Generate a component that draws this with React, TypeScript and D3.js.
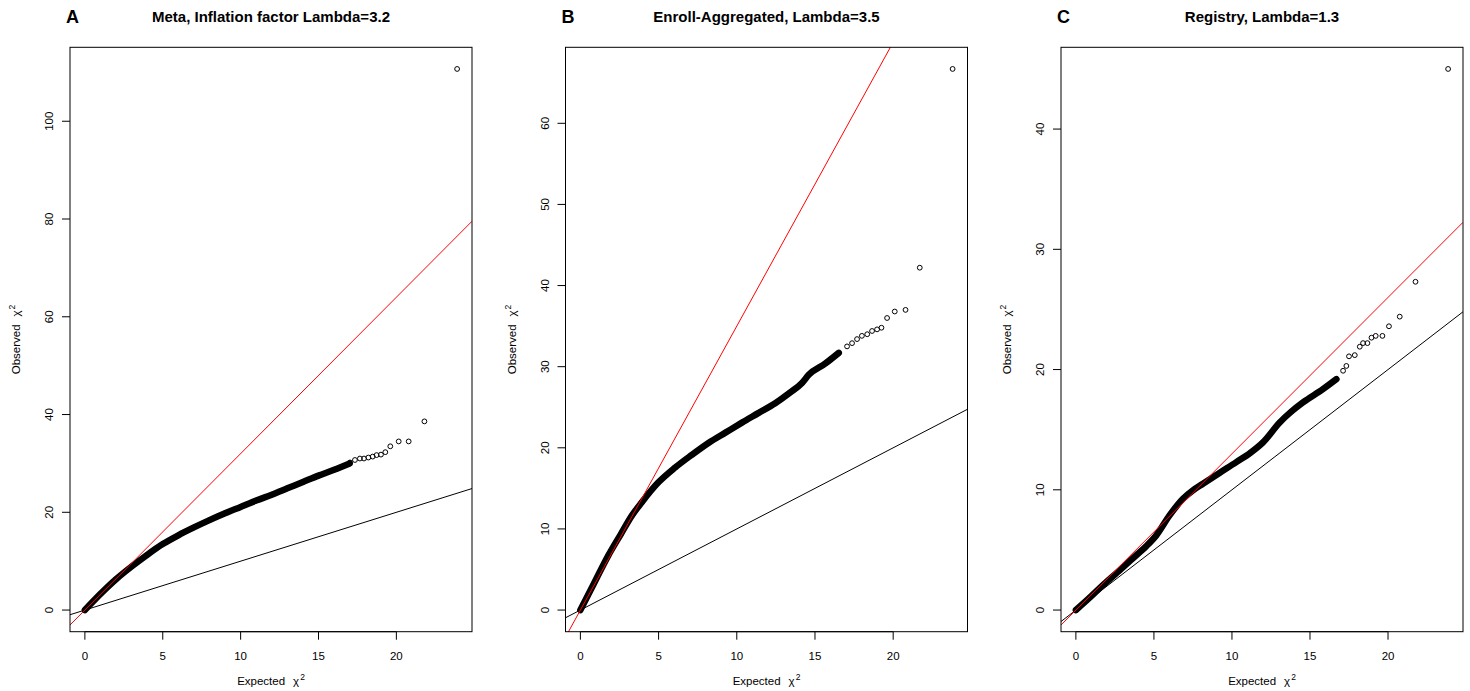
import React from "react";
import * as d3 from "d3";

// Expected vs observed chi-square quantiles: dense body of each QQ plot
const metaBand: [number, number][] = [
  [0, 0], [1, 3.3], [2, 6.3], [3, 8.9], [4, 11.3], [5, 13.5], [6, 15.3], [7, 16.9],
  [8, 18.4], [9, 19.8], [10, 21.1], [11, 22.4], [12, 23.6], [13, 24.9], [14, 26.2],
  [15, 27.5], [16, 28.7], [17, 30.0],
];
const metaTail: [number, number][] = [
  [17.02, 30.2], [17.34, 30.7], [17.66, 31.0], [17.92, 31.0], [18.2, 31.2], [18.48, 31.4],
  [18.73, 31.7], [19.01, 31.8], [19.29, 32.3], [19.61, 33.5], [20.15, 34.5], [20.79, 34.5],
  [21.8, 38.6], [23.9, 110.7],
];

const enrollBand: [number, number][] = [
  [0, 0], [0.9, 3.4], [1.79, 6.74], [2.6, 9.4], [3.29, 11.64], [3.93, 13.3], [4.99, 15.74],
  [6.06, 17.57], [7.1, 19.1], [8.19, 20.6], [9.3, 21.9], [10.33, 23.1], [11.4, 24.3],
  [12.46, 25.5], [13.4, 26.8], [14.17, 28.0], [14.6, 29.0], [15.67, 30.4], [16.52, 31.7],
];
const enrollTail: [number, number][] = [
  [17.05, 32.5], [17.37, 32.9], [17.69, 33.4], [18.0, 33.8], [18.34, 34.0], [18.65, 34.4],
  [18.97, 34.6], [19.25, 34.8], [19.61, 36.0], [20.1, 36.8], [20.79, 37.0], [21.7, 42.2],
  [23.8, 66.7],
];

const registryBand: [number, number][] = [
  [0, 0], [0.9, 1.05], [1.73, 2.07], [2.8, 3.3], [3.87, 4.56], [4.5, 5.3], [5.15, 6.21],
  [6.0, 7.87], [6.86, 9.25], [7.5, 9.95], [8.14, 10.5], [9.2, 11.4], [10.28, 12.3],
  [11.2, 13.1], [11.99, 13.95], [13.06, 15.6], [13.8, 16.5], [14.55, 17.27], [15.83, 18.37],
  [16.69, 19.2],
];
const registryTail: [number, number][] = [
  [17.12, 19.9], [17.33, 20.3], [17.5, 21.1], [17.87, 21.2], [18.19, 21.9], [18.4, 22.2],
  [18.68, 22.2], [18.94, 22.65], [19.21, 22.8], [19.64, 22.8], [20.06, 23.6], [20.75, 24.4],
  [21.76, 27.3], [23.85, 45.0],
];

const xTicks = [0, 5, 10, 15, 20];
const metaYTicks = [0, 20, 40, 60, 80, 100];
const enrollYTicks = [0, 10, 20, 30, 40, 50, 60];
const registryYTicks = [0, 10, 20, 30, 40];

const panelLetters = ["A", "B", "C"];
const panelTitles = [
  "Meta, Inflation factor Lambda=3.2",
  "Enroll-Aggregated, Lambda=3.5",
  "Registry, Lambda=1.3",
];
const lambdas = [3.2, 3.5, 1.3];

const FONT = "'Liberation Sans', Arial, sans-serif";

type PanelProps = {
  index: number;
  band: [number, number][];
  tail: [number, number][];
  yTicks: number[];
};

function padded(lo: number, hi: number): [number, number] {
  const d = (hi - lo) * 0.04;
  return [lo - d, hi + d];
}

function ChiLabel({ word }: { word: string }) {
  return (
    <>
      {word}
      <tspan dx={8}>χ</tspan>
      <tspan dx={1} dy={-5} fontSize={8.5}>2</tspan>
    </>
  );
}

function Panel({ index, band, tail, yTicks }: PanelProps) {
  const left = 70 + index * 495.5;
  const width = 402;
  const top = 47.3;
  const bottom = 631.7;
  const all = band.concat(tail);
  const x = d3
    .scaleLinear()
    .domain(padded(0, d3.max(all, (d) => d[0]) as number))
    .range([left, left + width]);
  const y = d3
    .scaleLinear()
    .domain(padded(0, d3.max(all, (d) => d[1]) as number))
    .range([bottom, top]);
  const [x0, x1] = x.domain();
  const lambda = lambdas[index];
  const clipId = `clip-${index}`;
  const line = d3
    .line<[number, number]>()
    .x((d) => x(d[0]))
    .y((d) => y(d[1]))
    .curve(d3.curveMonotoneX);
  const cx = left + width / 2;
  const cy = (top + bottom) / 2;

  return (
    <g>
      <defs>
        <clipPath id={clipId}>
          <rect x={left} y={top} width={width} height={bottom - top} />
        </clipPath>
      </defs>
      <g clipPath={`url(#${clipId})`}>
        <path d={line(band) || ""} fill="none" stroke="#000" strokeWidth={6.5} strokeLinecap="round" strokeLinejoin="round" />
        {band.map((d, i) => (
          <circle key={`b${i}`} cx={x(d[0])} cy={y(d[1])} r={2.4} fill="none" stroke="#000" strokeWidth={1} />
        ))}
        {tail.map((d, i) => (
          <circle key={`t${i}`} cx={x(d[0])} cy={y(d[1])} r={2.4} fill="none" stroke="#000" strokeWidth={1} />
        ))}
        <line x1={x(x0)} y1={y(x0)} x2={x(x1)} y2={y(x1)} stroke="#000" strokeWidth={1} />
        <line x1={x(x0)} y1={y(lambda * x0)} x2={x(x1)} y2={y(lambda * x1)} stroke="#ff0000" strokeWidth={1} />
      </g>
      <rect x={left} y={top} width={width} height={bottom - top} fill="none" stroke="#000" strokeWidth={1} />

      {/* x axis */}
      <line x1={x(xTicks[0])} x2={x(xTicks[xTicks.length - 1])} y1={bottom} y2={bottom} stroke="#000" />
      {xTicks.map((t) => (
        <g key={`xt${t}`}>
          <line x1={x(t)} x2={x(t)} y1={bottom} y2={bottom + 8} stroke="#000" />
          <text x={x(t)} y={660} textAnchor="middle" fontSize={11.5} fontFamily={FONT} fill="#000">
            {t}
          </text>
        </g>
      ))}
      <text x={cx} y={685} textAnchor="middle" fontSize={11.5} fontFamily={FONT} fill="#000">
        <ChiLabel word="Expected" />
      </text>

      {/* y axis */}
      {yTicks.map((t) => (
        <g key={`yt${t}`}>
          <line x1={left - 8} x2={left} y1={y(t)} y2={y(t)} stroke="#000" />
          <text
            transform={`translate(${left - 17},${y(t)}) rotate(-90)`}
            textAnchor="middle"
            fontSize={11.5}
            fontFamily={FONT}
            fill="#000"
          >
            {t}
          </text>
        </g>
      ))}
      <text
        transform={`translate(${left - 50},${cy}) rotate(-90)`}
        textAnchor="middle"
        fontSize={11.5}
        fontFamily={FONT}
        fill="#000"
      >
        <ChiLabel word="Observed" />
      </text>

      {/* headings */}
      <text x={left - 4} y={23} fontSize={18} fontWeight="bold" fontFamily={FONT} fill="#000">
        {panelLetters[index]}
      </text>
      <text x={cx} y={22} textAnchor="middle" fontSize={15} fontWeight="bold" fontFamily={FONT} fill="#000">
        {panelTitles[index]}
      </text>
    </g>
  );
}

export default function App() {
  return (
    <svg
      width={1470}
      height={691}
      style={{ position: "absolute", left: 0, top: 0, background: "#fff" }}
    >
      <rect width={1470} height={691} fill="#fff" />
      <Panel index={0} band={metaBand} tail={metaTail} yTicks={metaYTicks} />
      <Panel index={1} band={enrollBand} tail={enrollTail} yTicks={enrollYTicks} />
      <Panel index={2} band={registryBand} tail={registryTail} yTicks={registryYTicks} />
    </svg>
  );
}
